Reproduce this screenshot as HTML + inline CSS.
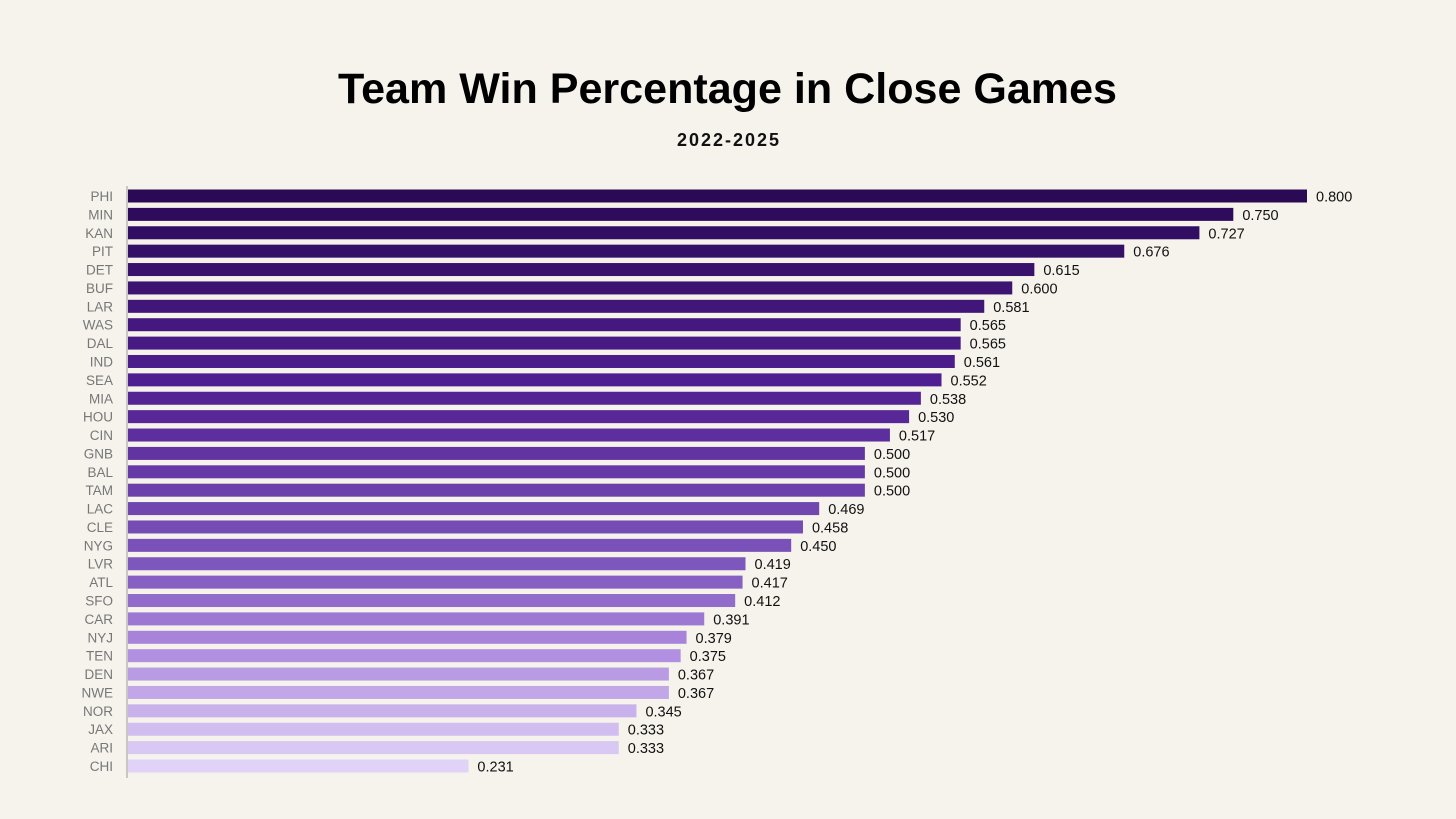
<!DOCTYPE html>
<html><head><meta charset="utf-8"><style>
html,body{margin:0;padding:0;background:#f5f3ec;}
svg{display:block;font-family:"Liberation Sans",sans-serif;}
</style></head><body>
<svg id="chart" width="1456" height="819">
<rect width="1456" height="819" fill="#f5f3ec"/>
<text x="338" y="103" font-size="43" font-weight="bold" fill="#000" textLength="779" lengthAdjust="spacingAndGlyphs">Team Win Percentage in Close Games</text>
<text x="677" y="146" font-size="18" font-weight="bold" fill="#111" textLength="102" lengthAdjust="spacing">2022-2025</text>
<g id="bars"></g>
<line x1="127" y1="186" x2="127" y2="778" stroke="#aaa" stroke-width="1.2"/>
</svg>
<script>
const teams=["PHI","MIN","KAN","PIT","DET","BUF","LAR","WAS","DAL","IND","SEA","MIA","HOU","CIN","GNB","BAL","TAM","LAC","CLE","NYG","LVR","ATL","SFO","CAR","NYJ","TEN","DEN","NWE","NOR","JAX","ARI","CHI"];
const winPct=[0.800,0.750,0.727,0.676,0.615,0.600,0.581,0.565,0.565,0.561,0.552,0.538,0.530,0.517,0.500,0.500,0.500,0.469,0.458,0.450,0.419,0.417,0.412,0.391,0.379,0.375,0.367,0.367,0.345,0.333,0.333,0.231];
const labels=winPct.map(v=>v.toFixed(3));

const x0=128, pxPerUnit=(1307-128)/0.8;
const xScale=v=>x0+v*pxPerUnit;
const y0=196, step=(766-196)/31;
const yScale=i=>y0+i*step;
const stops=[[0,[42,10,85]],[0.33,[80,30,145]],[0.66,[128,90,190]],[0.8,[176,142,224]],[1,[224,211,247]]];
function color(t){for(let k=1;k<stops.length;k++){if(t<=stops[k][0]){const a=stops[k-1],b=stops[k];const f=(t-a[0])/(b[0]-a[0]);const c=a[1].map((v,j)=>Math.round(v+(b[1][j]-v)*f));return `rgb(${c})`;}}return 'rgb(224,211,247)';}
const g=document.getElementById('bars');const NS='http://www.w3.org/2000/svg';
teams.forEach((t,i)=>{
  const y=yScale(i);
  const r=document.createElementNS(NS,'rect');
  r.setAttribute('x',x0);r.setAttribute('y',y-6.5);r.setAttribute('height',13);
  r.setAttribute('width',xScale(winPct[i])-x0);r.setAttribute('fill',color(i/(teams.length-1)));
  
  
  g.appendChild(r);
  const l=document.createElementNS(NS,'text');
  l.setAttribute('x',113);l.setAttribute('y',y+5);l.setAttribute('text-anchor','end');
  l.setAttribute('font-size',13.5);l.setAttribute('fill','#777');l.textContent=t;
  
  
  g.appendChild(l);
  const v=document.createElementNS(NS,'text');
  v.setAttribute('x',xScale(winPct[i])+9);v.setAttribute('y',y+5.5);
  v.setAttribute('font-size',14.5);v.setAttribute('fill','#111');v.textContent=labels[i];
  
  
  g.appendChild(v);
});
</script>
</body></html>
